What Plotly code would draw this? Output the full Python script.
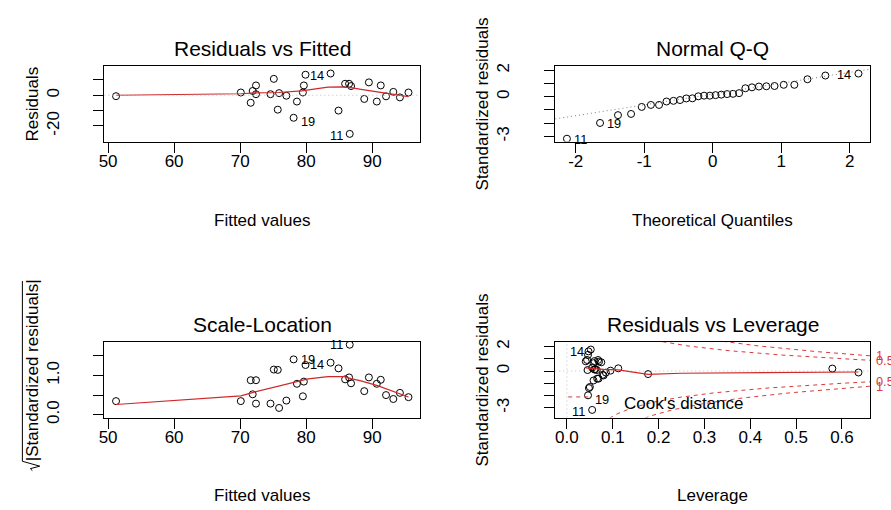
import numpy as np
import plotly.graph_objects as go
from statistics import NormalDist

# ---------------- data ----------------
fitted = [51.2, 70.1, 71.6, 71.9, 72.4, 72.4, 74.6, 75.1, 75.7, 75.9,
          77.0, 78.1, 78.6, 79.5, 79.65, 79.9, 83.7, 84.9, 85.9, 86.5,
          86.8, 86.6, 88.8, 89.5, 90.7, 91.3, 92.1, 93.2, 94.2, 95.5]
residuals = [-0.6, 1.8, -4.9, 2.8, 6.4, 0.7, 0.7, 10.7, -9.4, 1.4,
             -0.3, -14.7, -4.1, 1.8, 6.4, 13.4, 14.2, -10.0, 7.5, 7.5,
             6.0, -25.2, -2.4, 8.4, -4.1, 6.4, -0.7, 2.2, -1.4, 1.8]
std_resid = [-0.12, 0.12, -0.77, 0.27, 0.77, 0.08, 0.08, 1.32, -1.30, 0.03,
             -0.13, -1.98, -0.62, 0.22, 0.71, 1.60, 1.75, -1.39, 0.81, 0.90,
             0.64, -3.17, -0.36, 0.90, -0.62, 0.79, -0.25, 0.16, -0.31, 0.20]
leverage = [0.636, 0.060, 0.058, 0.055, 0.070, 0.065, 0.045, 0.046, 0.050, 0.095,
            0.085, 0.046, 0.069, 0.112, 0.075, 0.047, 0.052, 0.048, 0.060, 0.068,
            0.058, 0.055, 0.080, 0.044, 0.066, 0.041, 0.177, 0.062, 0.078, 0.579]
obs_labels = ["", "", "", "", "", "", "", "", "", "",
              "", "19", "", "", "", "", "14", "", "", "",
              "", "11", "", "", "", "", "", "", "", ""]
n_params = 3
cook_levels = [0.5, 1]

# smoother curves
res_smooth_x = [51.2, 60.0, 70.1, 72.3, 75.8, 79.3, 81.3, 83.3, 85.3, 86.8, 88.3, 90.8, 93.3, 95.5]
res_smooth_y = [0.0, 0.4, 1.0, 1.6, 1.8, 2.9, 4.2, 5.3, 5.5, 5.0, 3.9, 2.4, 0.7, -0.9]
sl_smooth_x = [51.2, 70.1, 72.0, 75.3, 78.3, 80.3, 83.3, 85.8, 86.8, 88.3, 90.8, 93.3, 95.5]
sl_smooth_y = [0.26, 0.48, 0.57, 0.70, 0.82, 0.91, 0.97, 0.97, 0.92, 0.86, 0.74, 0.58, 0.45]
lev_smooth_x = [0.041, 0.054, 0.080, 0.112, 0.177, 0.250, 0.380, 0.510, 0.636]
lev_smooth_y = [0.25, 0.20, 0.14, 0.10, -0.28, -0.18, -0.13, -0.10, -0.08]

# ticks
fit_ticks = [50, 60, 70, 80, 90]
res_ticks = [-20, -10, 0, 10]
res_ticktext = ["-20", "", "0", ""]
qx_ticks = [-2, -1, 0, 1, 2]
std_ticks = [-3, -2, -1, 0, 1, 2]
std_ticktext = ["-3", "", "", "0", "", "2"]
sl_ticks = [0.0, 0.5, 1.0, 1.5]
sl_ticktext = ["0.0", "", "1.0", ""]
lev_ticks = [0.0, 0.1, 0.2, 0.3, 0.4, 0.5, 0.6]
lev_ticktext = ["0.0", "0.1", "0.2", "0.3", "0.4", "0.5", "0.6"]

# ---------------- derived quantities ----------------
r = np.array(residuals)
rs = np.array(std_resid)
h = np.array(leverage)
yh = np.array(fitted)
sqrt_abs = np.sqrt(np.abs(rs))
n = len(rs)
order = np.argsort(rs)
qq_y = rs[order]
qq_x = np.array([NormalDist().inv_cdf((i - 0.5) / n) for i in range(1, n + 1)])
qq_lab = [obs_labels[i] for i in order]
q1, q3 = np.quantile(rs, [0.25, 0.75])
z1, z3 = NormalDist().inv_cdf(0.25), NormalDist().inv_cdf(0.75)
qq_slope = (q3 - q1) / (z3 - z1)
qq_int = q1 - qq_slope * z1


def ext(lo, hi, f=0.04):
    d = (hi - lo) * f
    return [lo - d, hi + d]


x_fit = ext(yh.min(), yh.max())
y_res = ext(*ext(r.min(), r.max(), 0.08))
x_qq = ext(qq_x.min(), qq_x.max())
y_qq = ext(rs.min(), rs.max() + 0.075 * (rs.max() - rs.min()))
y_sl = ext(0, sqrt_abs.max())
x_lev = ext(0, h.max())
y_lev = ext(*ext(rs.min(), rs.max(), 0.08))

# ---------------- layout helpers ----------------
W, H = 891, 510
FONT = "Liberation Sans, Arial, sans-serif"
RED = "#D02828"
COOK = "#DA3A3A"


def fx(px):
    return px / W


def fy(py):
    return 1 - py / H


boxes = {1: (99, 417, 64, 141), 2: (553, 870, 64, 141),
         3: (99, 417, 345, 422), 4: (553, 870, 345, 422)}


def axis(dom, rng, tv, tt, anchor, vertical=False):
    d = dict(domain=dom, range=rng, tickvals=tv, ticktext=tt, anchor=anchor,
             showline=True, mirror=True, linecolor="black", linewidth=1,
             ticks="outside", ticklen=10, tickwidth=1, tickcolor="black",
             showgrid=False, zeroline=False, fixedrange=True,
             tickfont=dict(family=FONT, size=17, color="black"))
    if vertical:
        d["tickangle"] = -90
        d["ticklabelstandoff"] = 28
    else:
        d["ticklabelstandoff"] = -6
    return d


fig = go.Figure()
pts = dict(mode="markers", marker=dict(symbol="circle-open", size=7, color="black",
                                       line=dict(width=1, color="black")),
           showlegend=False, hoverinfo="skip")

# panel 1: residuals vs fitted
fig.add_trace(go.Scatter(x=yh, y=r, xaxis="x", yaxis="y", **pts))
fig.add_trace(go.Scatter(x=res_smooth_x, y=res_smooth_y, xaxis="x", yaxis="y", mode="lines",
                         line=dict(color=RED, width=1.2), showlegend=False, hoverinfo="skip"))
fig.add_trace(go.Scatter(x=x_fit, y=[0, 0], xaxis="x", yaxis="y", mode="lines",
                         line=dict(color="#BEBEBE", width=1, dash="1px,3px"),
                         showlegend=False, hoverinfo="skip"))

# panel 2: normal Q-Q
fig.add_trace(go.Scatter(x=qq_x, y=qq_y, xaxis="x2", yaxis="y2", **pts))
fig.add_trace(go.Scatter(x=x_qq, y=[qq_int + qq_slope * v for v in x_qq], xaxis="x2", yaxis="y2",
                         mode="lines", line=dict(color="#7F7F7F", width=1, dash="1px,3px"),
                         showlegend=False, hoverinfo="skip"))

# panel 3: scale-location
fig.add_trace(go.Scatter(x=yh, y=sqrt_abs, xaxis="x3", yaxis="y3", **pts))
fig.add_trace(go.Scatter(x=sl_smooth_x, y=sl_smooth_y, xaxis="x3", yaxis="y3", mode="lines",
                         line=dict(color=RED, width=1.2), showlegend=False, hoverinfo="skip"))

# panel 4: residuals vs leverage
fig.add_trace(go.Scatter(x=[0, 0], y=y_lev, xaxis="x4", yaxis="y4", mode="lines",
                         line=dict(color="#BEBEBE", width=1, dash="1px,3px"),
                         showlegend=False, hoverinfo="skip"))
fig.add_trace(go.Scatter(x=x_lev, y=[0, 0], xaxis="x4", yaxis="y4", mode="lines",
                         line=dict(color="#BEBEBE", width=1, dash="1px,3px"),
                         showlegend=False, hoverinfo="skip"))
fig.add_trace(go.Scatter(x=h, y=rs, xaxis="x4", yaxis="y4", **pts))
fig.add_trace(go.Scatter(x=lev_smooth_x, y=lev_smooth_y, xaxis="x4", yaxis="y4", mode="lines",
                         line=dict(color=RED, width=1.2), showlegend=False, hoverinfo="skip"))
hh = np.linspace(min(h.min(), h.max() / 100), x_lev[1], 101)
for crit in cook_levels:
    cl = np.sqrt(crit * n_params * (1 - hh) / hh)
    for sgn in (1, -1):
        fig.add_trace(go.Scatter(x=hh, y=sgn * cl, xaxis="x4", yaxis="y4", mode="lines",
                                 line=dict(color=COOK, width=1, dash="4px,4px"),
                                 showlegend=False, hoverinfo="skip"))

# axes
b = boxes
fig.update_layout(
    xaxis=axis([fx(b[1][0]), fx(b[1][1])], x_fit, fit_ticks, [str(v) for v in fit_ticks], "y"),
    yaxis=axis([fy(b[1][3]), fy(b[1][2])], y_res, res_ticks, res_ticktext, "x", True),
    xaxis2=axis([fx(b[2][0]), fx(b[2][1])], x_qq, qx_ticks, [str(v) for v in qx_ticks], "y2"),
    yaxis2=axis([fy(b[2][3]), fy(b[2][2])], y_qq, std_ticks, std_ticktext, "x2", True),
    xaxis3=axis([fx(b[3][0]), fx(b[3][1])], x_fit, fit_ticks, [str(v) for v in fit_ticks], "y3"),
    yaxis3=axis([fy(b[3][3]), fy(b[3][2])], y_sl, sl_ticks, sl_ticktext, "x3", True),
    xaxis4=axis([fx(b[4][0]), fx(b[4][1])], x_lev, lev_ticks, lev_ticktext, "y4"),
    yaxis4=axis([fy(b[4][3]), fy(b[4][2])], y_lev, std_ticks, std_ticktext, "x4", True),
)

ann = []


def txt(px, py, s, size=17, angle=0, color="black", xanchor="center"):
    ann.append(dict(x=fx(px), y=fy(py), xref="paper", yref="paper", text=s, showarrow=False,
                    textangle=angle, xanchor=xanchor, yanchor="middle",
                    font=dict(family=FONT, size=size, color=color)))


# titles
txt(258, 46, "Residuals vs Fitted", 21)
txt(711.5, 46, "Normal Q-Q", 21)
txt(258, 327, "Scale-Location", 21)
txt(711.5, 327, "Residuals vs Leverage", 21)
# axis titles
txt(258, 221, "Fitted values")
txt(711.5, 221, "Theoretical Quantiles")
txt(258, 501, "Fitted values")
txt(711.5, 501, "Leverage")
txt(27, 102.5, "Residuals", angle=-90)
txt(480, 102.5, "Standardized residuals", angle=-90)
txt(27, 374, "|Standardized residuals|", angle=-90)
txt(480, 383.5, "Standardized residuals", angle=-90)


def idlab(xa, ya, x, y, s, side, dy=0):
    ann.append(dict(x=x, y=y, xref=xa, yref=ya, text=s, showarrow=False,
                    xanchor="left" if side == "right" else "right", yanchor="middle",
                    xshift=5 if side == "right" else -5, yshift=dy,
                    font=dict(family=FONT, size=12.8, color="black")))


sides = {"11": "left", "14": "left", "19": "right"}
for i, lab in enumerate(obs_labels):
    if lab:
        idlab("x", "y", yh[i], r[i], lab, sides[lab], -4 if lab == "19" else -2)
        idlab("x3", "y3", yh[i], sqrt_abs[i], lab, sides[lab], -2 if lab == "14" else 0)
        idlab("x4", "y4", h[i], rs[i], lab, sides[lab], -4 if lab == "19" else -2)
for i, lab in enumerate(qq_lab):
    if lab:
        idlab("x2", "y2", qq_x[i], qq_y[i], lab, "left" if lab == "14" else "right", -1)

# Cook's distance labels on the right edge
xmax = min(0.99, x_lev[1])
ymult = np.sqrt(n_params * (1 - xmax) / xmax)
for lev in cook_levels:
    for sgn in (1, -1):
        ann.append(dict(x=1, y=sgn * np.sqrt(lev) * ymult, xref="x4 domain", yref="y4",
                        text=str(lev), showarrow=False, xanchor="left", yanchor="middle",
                        xshift=4, font=dict(family=FONT, size=12.8, color=COOK)))

# Cook's distance legend
txt(620, 408, "Cook's distance", xanchor="left")


def ppath(points):
    return "M " + " L ".join(f"{fx(a):.5f} {fy(c):.5f}" for a, c in points)


shapes = [dict(type="line", xref="paper", yref="paper", x0=fx(566), x1=fx(588),
               y0=fy(401), y1=fy(401), line=dict(color=COOK, width=1, dash="4px,4px")),
          # radical sign with its overline for the rotated sqrt label
          dict(type="path", xref="paper", yref="paper",
               path=ppath([(26.5, 476), (24.5, 474), (34, 471.5), (16.5, 466.5), (16.5, 283)]),
               line=dict(color="black", width=1))]

fig.update_layout(width=W, height=H, margin=dict(l=0, r=0, t=0, b=0),
                  paper_bgcolor="white", plot_bgcolor="white",
                  annotations=ann, shapes=shapes, showlegend=False,
                  font=dict(family=FONT, color="black"))

fig.write_html("out.html", post_script="document.body.style.margin='0';",
               config={"displayModeBar": False})
